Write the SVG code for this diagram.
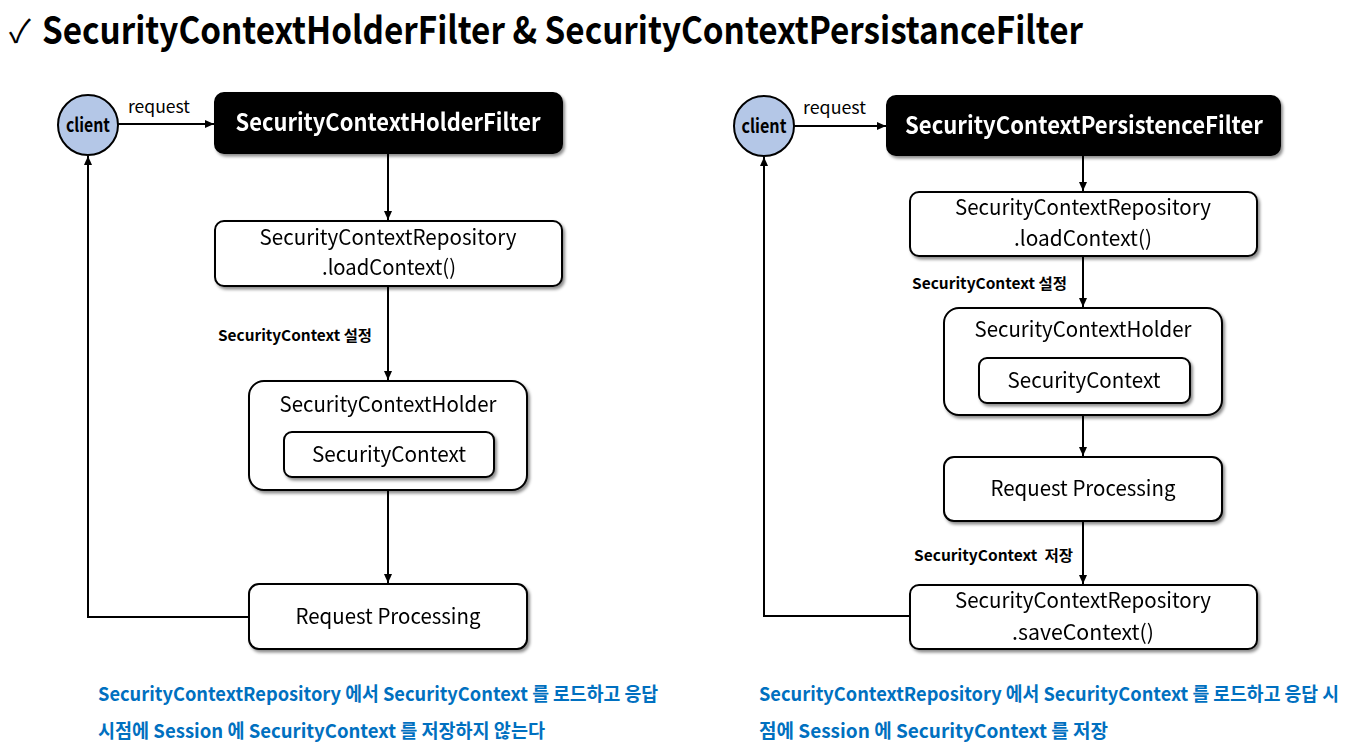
<svg xmlns="http://www.w3.org/2000/svg" width="1368" height="754" viewBox="0 0 1368 754">
<style>
  text { font-family: "Noto Sans CJK KR", "Noto Sans", sans-serif; fill: #000; }
  .title { font-size: 38px; font-weight: 700; }
  .check { font-size: 32px; font-weight: 400; }
  .filter-t { font-size: 24px; font-weight: 700; fill: #fff; text-anchor: middle; }
  .node-t { font-size: 21px; font-weight: 400; text-anchor: middle; }
  .lbl { font-size: 17px; font-weight: 400; }
  .client-t { font-size: 19px; font-weight: 700; text-anchor: middle; }
  .edge-l { font-size: 15px; font-weight: 700; white-space: pre; }
  .note { font-size: 19px; font-weight: 700; fill: #0070c0; }
  .box { fill: #fff; stroke: #000; stroke-width: 2; }
  .dark { fill: #000; stroke: #000; stroke-width: 2; }
  .circle { fill: #b4c7e7; stroke: #000; stroke-width: 2; }
  .conn { fill: none; stroke: #000; stroke-width: 2; }
</style>
<defs>
  <filter id="sh" x="-10%" y="-10%" width="130%" height="140%">
    <feDropShadow dx="2" dy="2.5" stdDeviation="1.5" flood-color="#000" flood-opacity="0.45"/>
  </filter>
  <marker id="arr" markerWidth="10" markerHeight="10" refX="9" refY="5" orient="auto" markerUnits="userSpaceOnUse">
    <path d="M0,1 L9,5 L0,9 Z" fill="#000"/>
  </marker>
</defs>
<rect width="1368" height="754" fill="#fff"/>

<g id="title">
  <text class="check" x="9" y="43">✓</text>
  <text class="title" x="42" y="44" textLength="1041" lengthAdjust="spacingAndGlyphs">SecurityContextHolderFilter &amp; SecurityContextPersistanceFilter</text>
</g>

<g id="connectors">
  <!-- left -->
  <line class="conn" x1="118" y1="124" x2="214" y2="124" marker-end="url(#arr)"/>
  <line class="conn" x1="388" y1="153" x2="388" y2="220" marker-end="url(#arr)"/>
  <line class="conn" x1="388" y1="286" x2="388" y2="380" marker-end="url(#arr)"/>
  <line class="conn" x1="388" y1="490" x2="388" y2="583" marker-end="url(#arr)"/>
  <polyline class="conn" points="249,617 88,617 88,156" marker-end="url(#arr)"/>
  <!-- right -->
  <line class="conn" x1="794" y1="126" x2="886" y2="126" marker-end="url(#arr)"/>
  <line class="conn" x1="1083" y1="155" x2="1083" y2="191" marker-end="url(#arr)"/>
  <line class="conn" x1="1083" y1="256" x2="1083" y2="307" marker-end="url(#arr)"/>
  <line class="conn" x1="1083" y1="415" x2="1083" y2="456" marker-end="url(#arr)"/>
  <line class="conn" x1="1083" y1="521" x2="1083" y2="584" marker-end="url(#arr)"/>
  <polyline class="conn" points="910,616 764,616 764,157" marker-end="url(#arr)"/>
  <!-- labels -->
  <text class="lbl" x="128" y="113" textLength="62" lengthAdjust="spacingAndGlyphs">request</text>
  <text class="edge-l" x="218" y="341" textLength="154" lengthAdjust="spacingAndGlyphs">SecurityContext 설정</text>
  <text class="lbl" x="803" y="114" textLength="63" lengthAdjust="spacingAndGlyphs">request</text>
  <text class="edge-l" x="912" y="289" textLength="155" lengthAdjust="spacingAndGlyphs">SecurityContext 설정</text>
  <text class="edge-l" x="914" y="561" xml:space="preserve" textLength="159" lengthAdjust="spacingAndGlyphs">SecurityContext  저장</text>
</g>

<!-- Left diagram -->
<g id="client-left">
  <circle class="circle" cx="88" cy="125" r="30"/>
  <text class="client-t" x="88" y="132" textLength="44" lengthAdjust="spacingAndGlyphs">client</text>
</g>
<g id="holder-filter" filter="url(#sh)">
  <rect class="dark" x="215" y="93" width="347" height="60" rx="9"/>
  <text class="filter-t" x="388" y="131" textLength="305" lengthAdjust="spacingAndGlyphs">SecurityContextHolderFilter</text>
</g>
<g id="load-left" filter="url(#sh)">
  <rect class="box" x="215" y="221" width="347" height="65" rx="9"/>
  <text class="node-t" x="388" y="245" textLength="257" lengthAdjust="spacingAndGlyphs">SecurityContextRepository</text>
  <text class="node-t" x="389" y="275" textLength="134" lengthAdjust="spacingAndGlyphs">.loadContext()</text>
</g>
<g id="holder-left" filter="url(#sh)">
  <rect class="box" x="249" y="381" width="278" height="109" rx="15"/>
  <text class="node-t" x="388" y="412" textLength="217" lengthAdjust="spacingAndGlyphs">SecurityContextHolder</text>
</g>
<g id="context-left" filter="url(#sh)">
  <rect class="box" x="284" y="432" width="210" height="45" rx="8"/>
  <text class="node-t" x="389" y="462" textLength="154" lengthAdjust="spacingAndGlyphs">SecurityContext</text>
</g>
<g id="processing-left" filter="url(#sh)">
  <rect class="box" x="249" y="584" width="278" height="65" rx="10"/>
  <text class="node-t" x="388" y="624" textLength="185" lengthAdjust="spacingAndGlyphs">Request Processing</text>
</g>

<!-- Right diagram -->
<g id="client-right">
  <circle class="circle" cx="764" cy="126" r="30"/>
  <text class="client-t" x="764" y="133" textLength="45" lengthAdjust="spacingAndGlyphs">client</text>
</g>
<g id="persistence-filter" filter="url(#sh)">
  <rect class="dark" x="887" y="96" width="393" height="59" rx="9"/>
  <text class="filter-t" x="1084" y="134" textLength="358" lengthAdjust="spacingAndGlyphs">SecurityContextPersistenceFilter</text>
</g>
<g id="load-right" filter="url(#sh)">
  <rect class="box" x="910" y="192" width="347" height="64" rx="9"/>
  <text class="node-t" x="1083" y="215" textLength="256" lengthAdjust="spacingAndGlyphs">SecurityContextRepository</text>
  <text class="node-t" x="1083" y="246" textLength="138" lengthAdjust="spacingAndGlyphs">.loadContext()</text>
</g>
<g id="holder-right" filter="url(#sh)">
  <rect class="box" x="944" y="308" width="278" height="107" rx="15"/>
  <text class="node-t" x="1083" y="337" textLength="217" lengthAdjust="spacingAndGlyphs">SecurityContextHolder</text>
</g>
<g id="context-right" filter="url(#sh)">
  <rect class="box" x="979" y="358" width="211" height="45" rx="8"/>
  <text class="node-t" x="1084" y="388" textLength="153" lengthAdjust="spacingAndGlyphs">SecurityContext</text>
</g>
<g id="processing-right" filter="url(#sh)">
  <rect class="box" x="944" y="457" width="278" height="64" rx="10"/>
  <text class="node-t" x="1083" y="496" textLength="185" lengthAdjust="spacingAndGlyphs">Request Processing</text>
</g>
<g id="save-right" filter="url(#sh)">
  <rect class="box" x="910" y="585" width="347" height="64" rx="9"/>
  <text class="node-t" x="1083" y="608" textLength="256" lengthAdjust="spacingAndGlyphs">SecurityContextRepository</text>
  <text class="node-t" x="1083" y="640" textLength="142" lengthAdjust="spacingAndGlyphs">.saveContext()</text>
</g>

<g id="notes">
  <text class="note" x="98" y="701" textLength="560" lengthAdjust="spacingAndGlyphs">SecurityContextRepository 에서 SecurityContext 를 로드하고 응답</text>
  <text class="note" x="98" y="738" textLength="447" lengthAdjust="spacingAndGlyphs">시점에 Session 에 SecurityContext 를 저장하지 않는다</text>
  <text class="note" x="759" y="701" textLength="580" lengthAdjust="spacingAndGlyphs">SecurityContextRepository 에서 SecurityContext 를 로드하고 응답 시</text>
  <text class="note" x="759" y="738" textLength="349" lengthAdjust="spacingAndGlyphs">점에 Session 에 SecurityContext 를 저장</text>
</g>
</svg>
